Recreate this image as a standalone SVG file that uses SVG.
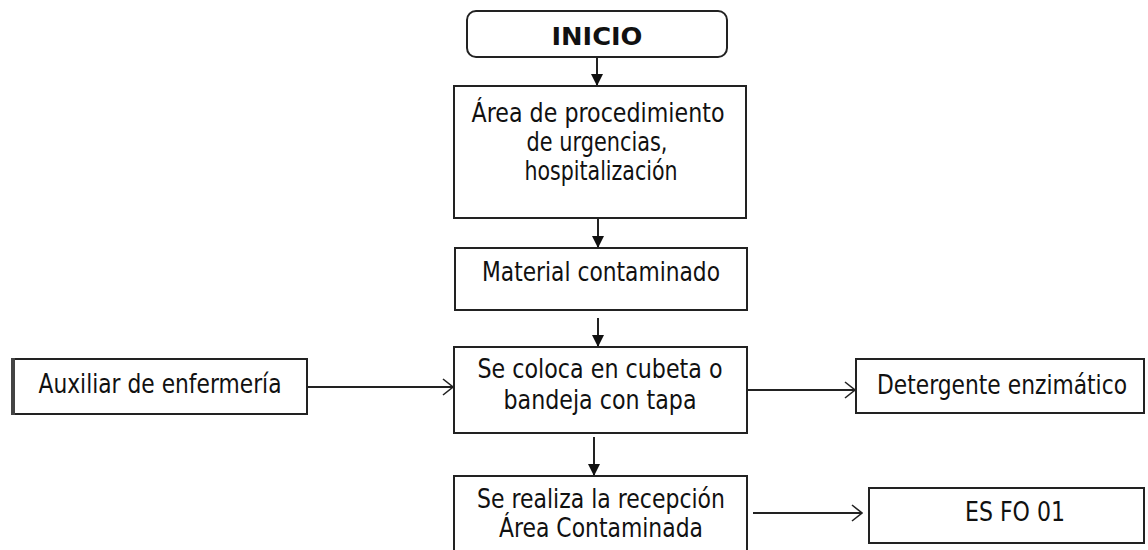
<svg xmlns="http://www.w3.org/2000/svg" width="1148" height="550" viewBox="0 0 1148 550">
  <style>
    .box { fill: #ffffff; stroke: #222222; stroke-width: 2; }
    .t { font-family: "DejaVu Sans", Verdana, sans-serif; font-size: 27px; fill: #111111; text-anchor: middle; }
    .tb { font-family: "DejaVu Sans", Verdana, sans-serif; font-size: 25px; font-weight: bold; fill: #111111; text-anchor: middle; }
    .c { fill: none; stroke: #222222; stroke-width: 2; }
  </style>
  <defs>
    <marker id="fill" viewBox="0 0 12 12" refX="12" refY="6" markerWidth="12" markerHeight="12" markerUnits="userSpaceOnUse" orient="auto">
      <path d="M0,0 L12,6 L0,12 Z" fill="#111111"/>
    </marker>
    <marker id="open" viewBox="0 0 12 18" refX="11" refY="9" markerWidth="12" markerHeight="18" markerUnits="userSpaceOnUse" orient="auto">
      <path d="M1,1 L11,9 L1,17" fill="none" stroke="#222222" stroke-width="1.6"/>
    </marker>
  </defs>
  <rect width="1148" height="550" fill="#ffffff"/>

  <g id="connectors">
    <line class="c" x1="597" y1="57" x2="597" y2="86" marker-end="url(#fill)"/>
    <line class="c" x1="598" y1="218" x2="598" y2="248" marker-end="url(#fill)"/>
    <line class="c" x1="598" y1="318" x2="598" y2="347" marker-end="url(#fill)"/>
    <line class="c" x1="594" y1="437" x2="594" y2="476" marker-end="url(#fill)"/>
    <line class="c" x1="307" y1="387" x2="453" y2="387" marker-end="url(#open)"/>
    <line class="c" x1="748" y1="390" x2="855" y2="390" marker-end="url(#open)"/>
    <line class="c" x1="753" y1="513" x2="862" y2="513" marker-end="url(#open)"/>
  </g>

  <g id="inicio">
    <rect class="box" x="467" y="11" width="260" height="46" rx="9" ry="9"/>
    <text class="tb" x="597" y="45" textLength="91" lengthAdjust="spacingAndGlyphs">INICIO</text>
  </g>

  <g id="area">
    <rect class="box" x="454" y="86" width="292" height="132"/>
    <text class="t" x="598" y="122" textLength="253" lengthAdjust="spacingAndGlyphs">Área de procedimiento</text>
    <text class="t" x="597" y="151" textLength="141" lengthAdjust="spacingAndGlyphs">de urgencias,</text>
    <text class="t" x="601" y="180" textLength="153" lengthAdjust="spacingAndGlyphs">hospitalización</text>
  </g>

  <g id="material">
    <rect class="box" x="455" y="248" width="292" height="62"/>
    <text class="t" x="601" y="281" textLength="238" lengthAdjust="spacingAndGlyphs">Material contaminado</text>
  </g>

  <g id="coloca">
    <rect class="box" x="454" y="347" width="293" height="86"/>
    <text class="t" x="600" y="378" textLength="245" lengthAdjust="spacingAndGlyphs">Se coloca en cubeta o</text>
    <text class="t" x="600" y="409" textLength="193" lengthAdjust="spacingAndGlyphs">bandeja con tapa</text>
  </g>

  <g id="recepcion">
    <rect class="box" x="454" y="476" width="293" height="80"/>
    <text class="t" x="601" y="508" textLength="248" lengthAdjust="spacingAndGlyphs">Se realiza la recepción</text>
    <text class="t" x="601" y="537" textLength="204" lengthAdjust="spacingAndGlyphs">Área Contaminada</text>
  </g>

  <g id="auxiliar">
    <rect class="box" x="13" y="359" width="294" height="55"/>
    <line x1="13" y1="358" x2="13" y2="415" stroke="#444444" stroke-width="4"/>
    <text class="t" x="160" y="393" textLength="243" lengthAdjust="spacingAndGlyphs">Auxiliar de enfermería</text>
  </g>

  <g id="detergente">
    <rect class="box" x="856" y="359" width="288" height="54"/>
    <text class="t" x="1002" y="394" textLength="250" lengthAdjust="spacingAndGlyphs">Detergente enzimático</text>
  </g>

  <g id="esfo">
    <rect class="box" x="869" y="488" width="275" height="55"/>
    <text class="t" x="1015" y="521" textLength="100" lengthAdjust="spacingAndGlyphs">ES FO 01</text>
  </g>
</svg>
